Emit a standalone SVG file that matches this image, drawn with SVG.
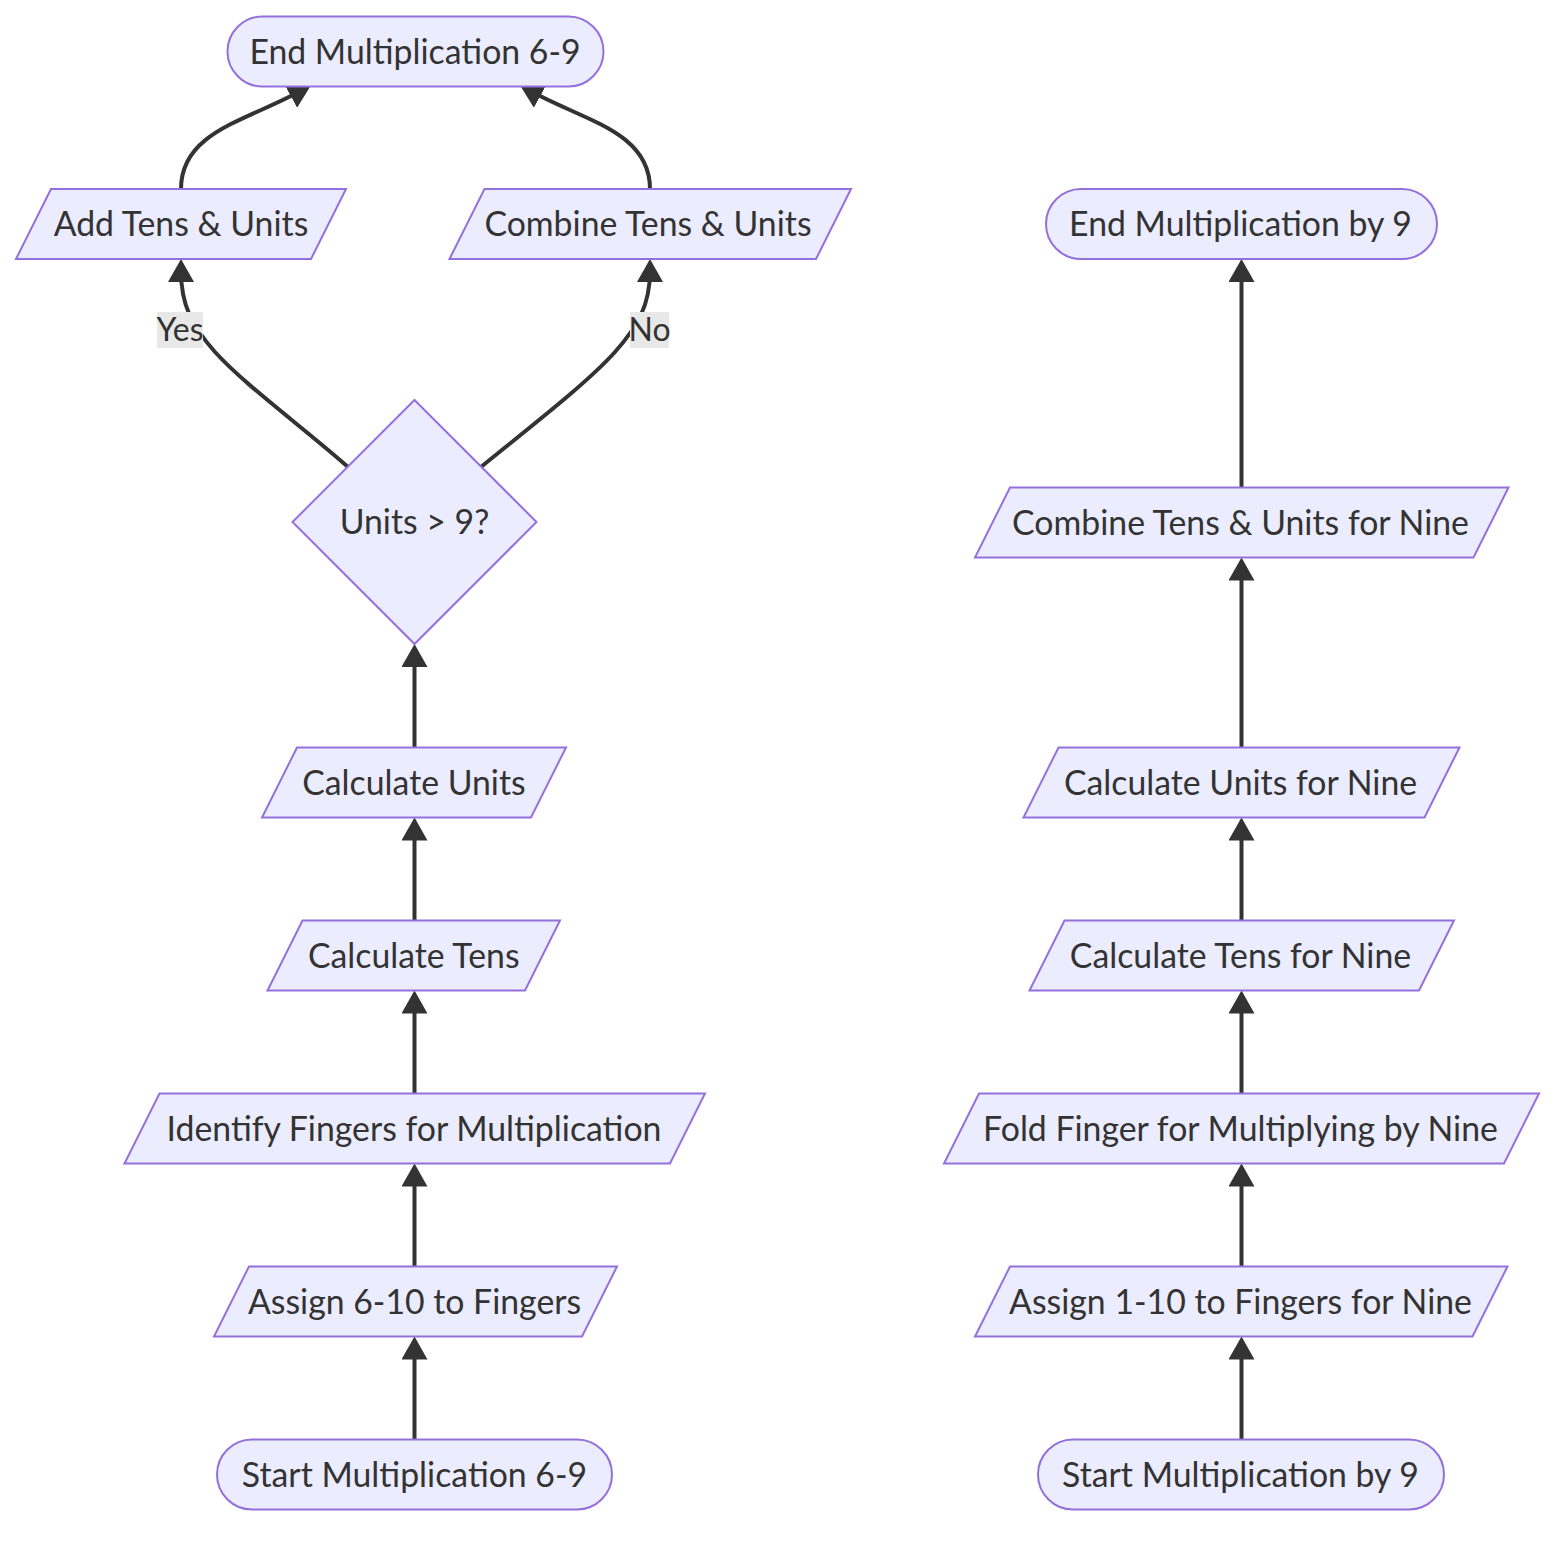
<svg xmlns="http://www.w3.org/2000/svg" width="1568" height="1544" viewBox="0 0 1568 1544">
  <style>
    .node-shape { fill: #ECECFF; stroke: #9370DB; stroke-width: 2; }
    .node-label { font-family: Lato, "Liberation Sans", sans-serif; font-size: 33.8px; fill: #333333; text-anchor: middle; }
    .edge { fill: none; stroke: #333333; stroke-width: 4; }
    .edge-label-bg { fill: #e8e8e8; }
    .edge-label { font-family: Lato, "Liberation Sans", sans-serif; font-size: 32px; fill: #333333; text-anchor: middle; }
  </style>
  <defs>
    <marker id="arrow" viewBox="0 0 23 26" markerWidth="23" markerHeight="26" refX="11" refY="13" orient="auto" markerUnits="userSpaceOnUse">
      <path d="M0,0 L23,13 L0,26 z" fill="#333333"/>
    </marker>
  </defs>
  <rect width="1568" height="1544" fill="#ffffff"/>

  <!-- connectors -->
  <g id="edges">
    <!-- left chain: 6-9 method -->
    <path class="edge" d="M414.5,1439.5 V1348.5" marker-end="url(#arrow)"/>
    <path class="edge" d="M414.5,1266.5 V1175.5" marker-end="url(#arrow)"/>
    <path class="edge" d="M414.5,1093.5 V1002.5" marker-end="url(#arrow)"/>
    <path class="edge" d="M414.5,920.5 V829.5" marker-end="url(#arrow)"/>
    <path class="edge" d="M414.5,747.5 V656" marker-end="url(#arrow)"/>
    <path class="edge" d="M348,467 C300,425 245,385 215,352 C192,326 181,305 181,271" marker-end="url(#arrow)"/>
    <path class="edge" d="M481,467 C530,427 585,385 615,352 C638,326 650,305 650,271" marker-end="url(#arrow)"/>
    <path class="edge" d="M181,189 C181,132 246,121 300.5,91" marker-end="url(#arrow)"/>
    <path class="edge" d="M650,189 C650,132 585,121 530.5,91" marker-end="url(#arrow)"/>
    <!-- right chain: nine method -->
    <path class="edge" d="M1241.5,1439.5 V1348.5" marker-end="url(#arrow)"/>
    <path class="edge" d="M1241.5,1266.5 V1175.5" marker-end="url(#arrow)"/>
    <path class="edge" d="M1241.5,1093.5 V1002.5" marker-end="url(#arrow)"/>
    <path class="edge" d="M1241.5,920.5 V829.5" marker-end="url(#arrow)"/>
    <path class="edge" d="M1241.5,747.5 V569.5" marker-end="url(#arrow)"/>
    <path class="edge" d="M1241.5,487.5 V271" marker-end="url(#arrow)"/>
    <!-- decision labels -->
    <rect class="edge-label-bg" x="157" y="312" width="46" height="36"/>
    <text class="edge-label" x="180" y="341">Yes</text>
    <rect class="edge-label-bg" x="630" y="312" width="39" height="36"/>
    <text class="edge-label" x="649.5" y="341">No</text>
  </g>

  <!-- left column nodes -->
  <g id="end69">
    <rect class="node-shape" x="227.5" y="16.5" width="376" height="70" rx="35" ry="35"/>
    <text class="node-label" x="415" y="63.5">End Multiplication 6-9</text>
  </g>
  <g id="addTensUnits">
    <polygon class="node-shape" points="51,189 346,189 311,259 16,259"/>
    <text class="node-label" x="181" y="236">Add Tens &amp; Units</text>
  </g>
  <g id="combineTensUnits">
    <polygon class="node-shape" points="484.5,189 851,189 816,259 449.5,259"/>
    <text class="node-label" x="648" y="236">Combine Tens &amp; Units</text>
  </g>
  <g id="unitsCheck">
    <polygon class="node-shape" points="414.5,400 536.5,522 414.5,644 292.5,522"/>
    <text class="node-label" x="414.5" y="534">Units &gt; 9?</text>
  </g>
  <g id="calcUnits">
    <polygon class="node-shape" points="297,747.5 566,747.5 531,817.5 262,817.5"/>
    <text class="node-label" x="414" y="794.5">Calculate Units</text>
  </g>
  <g id="calcTens">
    <polygon class="node-shape" points="302.5,920.5 560,920.5 525,990.5 267.5,990.5"/>
    <text class="node-label" x="413.75" y="967.5">Calculate Tens</text>
  </g>
  <g id="identifyFingers">
    <polygon class="node-shape" points="159.5,1093.5 705,1093.5 670,1163.5 124.5,1163.5"/>
    <text class="node-label" x="414" y="1140.5">Identify Fingers for Multiplication</text>
  </g>
  <g id="assign610">
    <polygon class="node-shape" points="249,1266.5 617,1266.5 582,1336.5 214,1336.5"/>
    <text class="node-label" x="414.5" y="1313.5">Assign 6-10 to Fingers</text>
  </g>
  <g id="start69">
    <rect class="node-shape" x="217" y="1439.5" width="395" height="70" rx="35" ry="35"/>
    <text class="node-label" x="414.5" y="1486.5">Start Multiplication 6-9</text>
  </g>

  <!-- right column nodes -->
  <g id="end9">
    <rect class="node-shape" x="1046" y="189" width="391" height="70" rx="35" ry="35"/>
    <text class="node-label" x="1240.5" y="236">End Multiplication by 9</text>
  </g>
  <g id="combineNine">
    <polygon class="node-shape" points="1010,487.5 1508.5,487.5 1473.5,557.5 975,557.5"/>
    <text class="node-label" x="1240.5" y="534.5">Combine Tens &amp; Units for Nine</text>
  </g>
  <g id="calcUnitsNine">
    <polygon class="node-shape" points="1058.5,747.5 1459.5,747.5 1424.5,817.5 1023.5,817.5"/>
    <text class="node-label" x="1240.5" y="794.5">Calculate Units for Nine</text>
  </g>
  <g id="calcTensNine">
    <polygon class="node-shape" points="1064.5,920.5 1454,920.5 1419,990.5 1029.5,990.5"/>
    <text class="node-label" x="1240.5" y="967.5">Calculate Tens for Nine</text>
  </g>
  <g id="foldFinger">
    <polygon class="node-shape" points="979,1093.5 1539,1093.5 1504,1163.5 944,1163.5"/>
    <text class="node-label" x="1240.5" y="1140.5">Fold Finger for Multiplying by Nine</text>
  </g>
  <g id="assign110">
    <polygon class="node-shape" points="1010,1266.5 1507.5,1266.5 1472.5,1336.5 975,1336.5"/>
    <text class="node-label" x="1240.5" y="1313.5">Assign 1-10 to Fingers for Nine</text>
  </g>
  <g id="start9">
    <rect class="node-shape" x="1038" y="1439.5" width="406" height="70" rx="35" ry="35"/>
    <text class="node-label" x="1240.5" y="1486.5">Start Multiplication by 9</text>
  </g>
</svg>
